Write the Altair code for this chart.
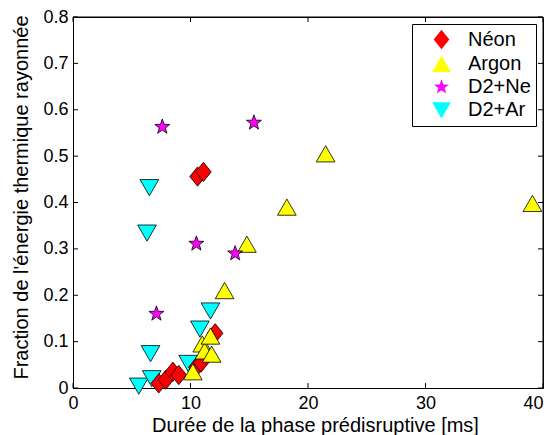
import altair as alt
import pandas as pd

# ---- data ----
categories = ["Néon", "Argon", "D2+Ne", "D2+Ar"]
colors = ["#FF0000", "#FFFF00", "#FF00FF", "#00FFFF"]

neon_x = [7.3, 7.9, 8.5, 9.0, 10.5, 10.9, 12.1, 10.6, 11.1]
neon_y = [0.010, 0.018, 0.035, 0.028, 0.045, 0.055, 0.118, 0.456, 0.466]

argon_x = [10.2, 11.0, 11.2, 11.7, 11.8, 12.9, 14.8, 18.2, 21.5, 39.1]
argon_y = [0.035, 0.095, 0.080, 0.112, 0.073, 0.210, 0.310, 0.390, 0.505, 0.398]

d2ne_x = [7.1, 7.6, 10.5, 13.8, 15.4]
d2ne_y = [0.160, 0.563, 0.311, 0.290, 0.572]

d2ar_x = [5.6, 6.7, 6.6, 9.8, 10.8, 11.7, 6.3, 6.5]
d2ar_y = [0.004, 0.020, 0.074, 0.053, 0.127, 0.166, 0.334, 0.432]

x_ticks = [0, 10, 20, 30, 40]
y_ticks = [0, 0.1, 0.2, 0.3, 0.4, 0.5, 0.6, 0.7, 0.8]

x_title = "Durée de la phase prédisruptive [ms]"
y_title = "Fraction de l'énergie thermique rayonnée"

# ---- table (draw order: D2+Ar, Néon, Argon, D2+Ne) ----
def frame(xs, ys, name):
    return pd.DataFrame({"x": xs, "y": ys, "serie": name})

df = pd.concat([
    frame(d2ar_x, d2ar_y, "D2+Ar"),
    frame(neon_x, neon_y, "Néon"),
    frame(argon_x, argon_y, "Argon"),
    frame(d2ne_x, d2ne_y, "D2+Ne"),
], ignore_index=True)

# marker shapes (unit paths)
diamond = "M0,-0.965L0.78,0L0,0.965L-0.78,0Z"
tri_up = "M0,-0.81L0.935,0.81L-0.935,0.81Z"
tri_down = "M0,0.81L0.935,-0.81L-0.935,-0.81Z"
star = ("M0,-0.79L0.186,-0.256L0.751,-0.244L0.301,0.098L0.464,0.639L0,0.316"
        "L-0.464,0.639L-0.301,0.098L-0.751,-0.244L-0.186,-0.256Z")
shapes = [diamond, tri_up, star, tri_down]

W, H = 470, 371
FONT = "Liberation Sans"
TL = 5

xscale = alt.Scale(domain=[0, 40], nice=False, zero=False)
yscale = alt.Scale(domain=[0, 0.8], nice=False, zero=False)

points = alt.Chart(df).mark_point(
    filled=True, opacity=1, stroke="black", strokeWidth=0.8, size=400
).encode(
    x=alt.X("x:Q", scale=xscale, axis=alt.Axis(
        title=x_title, values=x_ticks, format="d", ticks=False, labelFlush=False,
        labelAlign={"condition": {"test": "datum.value >= 40", "value": "right"},
                    "value": "center"},
        domain=True, domainColor="black", domainWidth=1,
        grid=False, labelPadding=6, titleX=242, titleY=43,
        titleBaseline="alphabetic", titleAlign="center")),
    y=alt.Y("y:Q", scale=yscale, axis=alt.Axis(
        title=y_title, values=y_ticks, format=".1~f", ticks=False, labelFlush=False,
        domain=True, domainColor="black", domainWidth=1,
        grid=False, labelPadding=5, titleX=-46, titleY=180,
        titleBaseline="alphabetic", titleAlign="center", titleAngle=270)),
    fill=alt.Color("serie:N", scale=alt.Scale(domain=categories, range=colors),
                   legend=alt.Legend(title=None)),
    shape=alt.Shape("serie:N", scale=alt.Scale(domain=categories, range=shapes),
                    legend=alt.Legend(title=None)),
)

xt = pd.DataFrame({"x": x_ticks})
yt = pd.DataFrame({"y": y_ticks})

bottom_ticks = alt.Chart(xt).mark_rule(color="black", strokeWidth=1).encode(
    x="x:Q", y=alt.value(H), y2=alt.value(H - TL))
top_ticks = alt.Chart(xt).mark_rule(color="black", strokeWidth=1).encode(
    x="x:Q", y=alt.value(0), y2=alt.value(TL))
left_ticks = alt.Chart(yt).mark_rule(color="black", strokeWidth=1).encode(
    y="y:Q", x=alt.value(0), x2=alt.value(TL))
right_ticks = alt.Chart(yt).mark_rule(color="black", strokeWidth=1).encode(
    y="y:Q", x=alt.value(W), x2=alt.value(W - TL))
# top and right frame edges
frame_lines = alt.Chart(pd.DataFrame({"k": [0]})).mark_rule(
    color="black", strokeWidth=1).encode(x=alt.value(0), x2=alt.value(W), y=alt.value(0))
frame_lines2 = alt.Chart(pd.DataFrame({"k": [0]})).mark_rule(
    color="black", strokeWidth=1).encode(x=alt.value(W), y=alt.value(0), y2=alt.value(H))

chart = alt.layer(
    points, bottom_ticks, top_ticks, left_ticks, right_ticks, frame_lines, frame_lines2
).properties(
    width=W, height=H,
    autosize=alt.AutoSizeParams(type="none"),
    padding={"left": 65, "top": 9, "right": 2, "bottom": 47},
).configure_view(
    stroke="black", strokeWidth=1
).configure_axis(
    labelFont=FONT, labelFontSize=18, labelColor="black",
    titleFont=FONT, titleFontSize=20, titleFontWeight="normal", titleColor="black",
).configure_legend(
    orient="none", legendX=339, legendY=7,
    padding=5, symbolOffset=14, labelOffset=16, rowPadding=2.3,
    strokeColor="black", fillColor="white", cornerRadius=0,
    labelFont=FONT, labelFontSize=20, labelColor="black",
    symbolSize=400, symbolStrokeColor="black", symbolStrokeWidth=0.8,
)

chart.save("out.html", embed_options={"renderer": "svg", "actions": False})
